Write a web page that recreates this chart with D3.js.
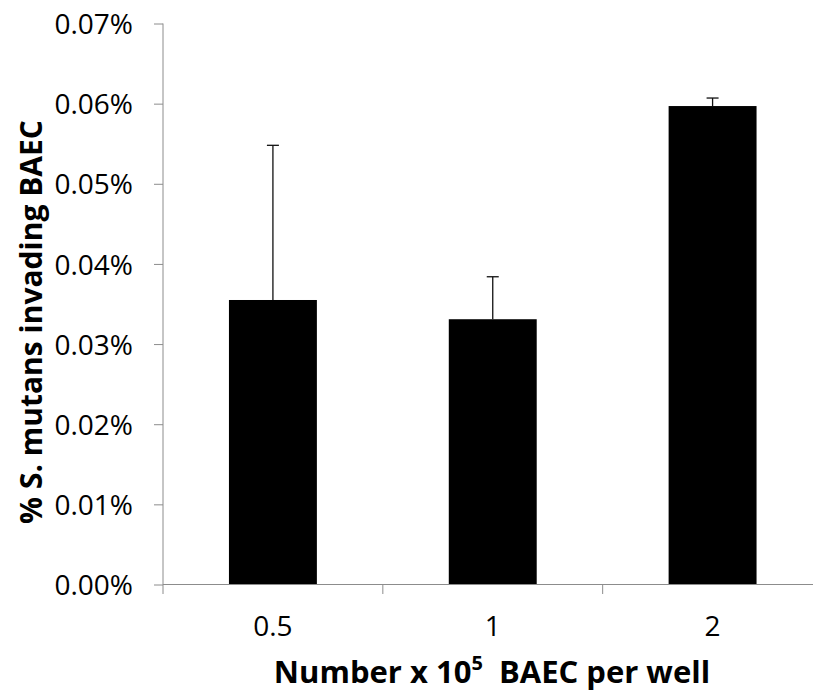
<!DOCTYPE html>
<html><head><meta charset="utf-8">
<script src="https://cdn.jsdelivr.net/npm/d3@7"></script>
<style>body{margin:0;background:#fff}svg{display:block}</style>
</head><body>
<script>
const categories = ["0.5", "1", "2"];
const values = [0.0355, 0.0331, 0.0597];
const errors = [0.0193, 0.0053, 0.0010];
const yTicks = [0, 0.01, 0.02, 0.03, 0.04, 0.05, 0.06, 0.07];

const W = 813, H = 692;
const svg = d3.select("body").append("svg").attr("width", W).attr("height", H);
const font = "'Open Sans', sans-serif";

const x = d3.scaleBand().domain(categories).range([163, 822.5]).paddingInner(0.6).paddingOuter(0.3);
const y = d3.scaleLinear().domain([0, 0.07]).range([584.5, 23.5]);

// bars
svg.append("g").selectAll("rect").data(values).join("rect")
  .attr("x", (d, i) => x(categories[i]))
  .attr("width", x.bandwidth())
  .attr("y", d => y(d))
  .attr("height", d => y(0) - y(d))
  .attr("fill", "#000");

// error bars
const eb = svg.append("g").attr("stroke", "#111").attr("stroke-width", 1.3);
values.forEach((v, i) => {
  const cx = x(categories[i]) + x.bandwidth() / 2;
  eb.append("line").attr("x1", cx).attr("x2", cx).attr("y1", y(v)).attr("y2", y(v + errors[i]));
  eb.append("line").attr("x1", cx - 6).attr("x2", cx + 6).attr("y1", y(v + errors[i])).attr("y2", y(v + errors[i]));
});

// y axis
const yAxis = d3.axisLeft(y).tickValues(yTicks).tickSize(9).tickPadding(21)
  .tickFormat(d => d3.format(".2f")(d) + "%");
const gy = svg.append("g").attr("transform", "translate(163,0)").call(yAxis);
gy.select(".domain").attr("stroke", "#8c8c8c").attr("d", "M0,23.5V594");
gy.selectAll(".tick line").attr("stroke", "#8c8c8c");
gy.selectAll(".tick text").attr("font-family", font).attr("font-size", 28).attr("fill", "#000").attr("dy", "0.36em");

// x axis
const xAxis = d3.axisBottom(x).tickSize(0).tickPadding(31.5);
const gx = svg.append("g").attr("transform", "translate(0,584.5)").call(xAxis);
gx.select(".domain").attr("stroke", "#8c8c8c").attr("d", "M163,0H813");
gx.selectAll(".tick text").attr("font-family", font).attr("font-size", 28).attr("fill", "#000");
// category boundary ticks
const bounds = categories.map(c => x(c) - x.step() * x.paddingInner() / 2).concat([822.5]);
gx.append("g").selectAll("line").data(bounds.slice(1)).join("line")
  .attr("x1", d => d).attr("x2", d => d).attr("y1", 0).attr("y2", 9.5).attr("stroke", "#8c8c8c");

// y title
svg.append("text")
  .attr("transform", "translate(42,322) rotate(-90)")
  .attr("text-anchor", "middle")
  .attr("font-family", font).attr("font-weight", "bold").attr("font-size", 30)
  .text("% S. mutans invading BAEC");

// x title
const xt = svg.append("text")
  .attr("x", 492).attr("y", 683)
  .attr("text-anchor", "middle")
  .attr("font-family", font).attr("font-weight", "bold").attr("font-size", 31);
xt.append("tspan").text("Number x 10");
xt.append("tspan").attr("dy", -13).attr("font-size", 20).text("5");
xt.append("tspan").attr("dy", 13).text("\u00a0 BAEC per well");
</script>
</body></html>
